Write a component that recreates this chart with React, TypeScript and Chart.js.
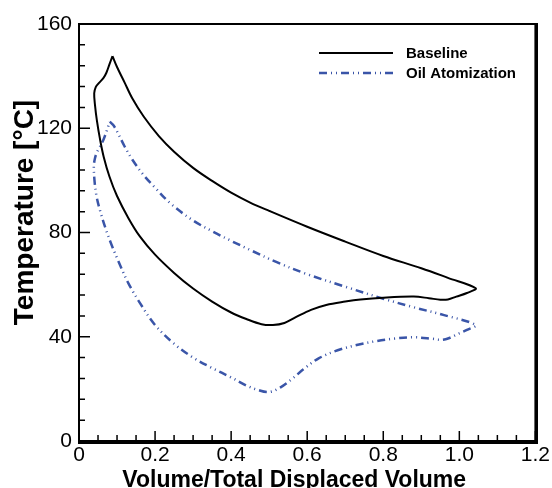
import React, { useEffect, useRef, useState } from "react";
import { Chart, registerables } from "chart.js";

Chart.register(...registerables);

const seriesLabels = ["Baseline", "Oil Atomization"];

const baselineX = [0.088, 0.100, 0.120, 0.140, 0.170, 0.210, 0.250, 0.300, 0.350, 0.400, 0.450, 0.500, 0.600, 0.700, 0.800, 0.900, 0.970, 1.043, 1.020, 0.992, 0.970, 0.950, 0.920, 0.880, 0.800, 0.740, 0.700, 0.650, 0.610, 0.570, 0.540, 0.510, 0.480, 0.440, 0.400, 0.350, 0.300, 0.250, 0.200, 0.160, 0.130, 0.100, 0.080, 0.065, 0.055, 0.047, 0.042, 0.040, 0.044, 0.052, 0.064, 0.072, 0.080, 0.088];
const baselineY = [147.7, 143.5, 137.5, 131.5, 124.5, 117.0, 111.0, 104.8, 99.8, 95.3, 91.5, 88.3, 82.2, 76.5, 71.0, 66.3, 62.6, 58.6, 56.8, 55.4, 54.3, 54.2, 54.8, 55.4, 55.0, 54.3, 53.5, 52.2, 50.3, 47.5, 45.3, 44.5, 44.8, 46.8, 49.3, 53.5, 58.5, 64.5, 71.5, 78.5, 85.5, 94.0, 101.5, 109.0, 116.0, 123.0, 129.0, 133.4, 135.8, 137.3, 139.2, 141.3, 144.5, 147.7];

const oilX = [0.081, 0.090, 0.100, 0.120, 0.140, 0.170, 0.200, 0.240, 0.300, 0.350, 0.400, 0.450, 0.520, 0.600, 0.700, 0.800, 0.880, 0.960, 1.043, 1.020, 1.000, 0.975, 0.955, 0.930, 0.880, 0.830, 0.780, 0.730, 0.680, 0.630, 0.590, 0.560, 0.530, 0.500, 0.470, 0.440, 0.400, 0.350, 0.300, 0.250, 0.200, 0.160, 0.130, 0.105, 0.085, 0.070, 0.055, 0.046, 0.041, 0.039, 0.042, 0.048, 0.064, 0.081];
const oilY = [122.5, 121.2, 118.8, 113.0, 108.0, 102.0, 97.2, 91.2, 84.6, 80.5, 76.8, 73.3, 68.6, 64.0, 59.2, 54.6, 51.3, 48.3, 44.5, 42.6, 41.3, 39.6, 38.8, 39.2, 39.8, 39.3, 38.3, 36.8, 34.8, 31.7, 27.5, 23.8, 20.6, 18.8, 19.6, 21.3, 24.4, 28.0, 32.0, 37.3, 44.5, 53.0, 60.5, 68.5, 75.5, 81.5, 88.6, 94.0, 99.5, 105.3, 108.5, 111.0, 115.5, 122.5];

const xTicks = [0, 0.2, 0.4, 0.6, 0.8, 1, 1.2];
const yTicks = [0, 40, 80, 120, 160];
const xMinorPerMajor = 4;
const yMinorPerMajor = 5;

const xTitle = "Volume/Total Displaced Volume";
const yTitle = "Temperature [°C]";

const FONT = "'Liberation Sans', Arial, Helvetica, sans-serif";

const axesPlugin = {
  id: "axesPlugin",
  afterDraw(chart: any) {
    const ctx = chart.ctx;
    const a = chart.chartArea;
    const xs = chart.scales.x;
    const ys = chart.scales.y;

    ctx.save();
    ctx.strokeStyle = "#000000";
    ctx.lineWidth = 2;
    ctx.setLineDash([]);
    ctx.strokeRect(a.left, a.top, a.right - a.left, a.bottom - a.top);

    ctx.lineWidth = 1.5;
    const yStep = (yTicks[1] - yTicks[0]) / yMinorPerMajor;
    const nY = Math.round((yTicks[yTicks.length - 1] - yTicks[0]) / yStep);
    ctx.beginPath();
    for (let i = 0; i <= nY; i++) {
      const p = ys.getPixelForValue(yTicks[0] + i * yStep);
      const len = i % yMinorPerMajor === 0 ? 11 : 6;
      ctx.moveTo(a.left, p);
      ctx.lineTo(a.left + len, p);
    }
    const xStep = (xTicks[1] - xTicks[0]) / xMinorPerMajor;
    const nX = Math.round((xTicks[xTicks.length - 1] - xTicks[0]) / xStep);
    for (let i = 0; i <= nX; i++) {
      const p = xs.getPixelForValue(xTicks[0] + i * xStep);
      const len = i % xMinorPerMajor === 0 ? 10 : 6;
      ctx.moveTo(p, a.bottom);
      ctx.lineTo(p, a.bottom - len);
    }
    ctx.stroke();
    ctx.restore();

    chart.data.datasets.forEach((ds: any, i: number) => {
      const y = a.top + 29 + i * 20;
      ctx.save();
      ctx.strokeStyle = ds.borderColor;
      ctx.lineWidth = ds.borderWidth;
      ctx.setLineDash(ds.borderDash || []);
      ctx.beginPath();
      ctx.moveTo(a.left + 240, y);
      ctx.lineTo(a.left + 314, y);
      ctx.stroke();
      ctx.restore();
      ctx.save();
      ctx.font = `bold 15px ${FONT}`;
      ctx.textAlign = "left";
      ctx.textBaseline = "middle";
      ctx.fillStyle = "#000";
      ctx.fillText(ds.label, a.left + 327, y + 1);
      ctx.restore();
    });

    ctx.save();
    ctx.fillStyle = "#000";
    ctx.font = `bold 23px ${FONT}`;
    ctx.textAlign = "center";
    ctx.textBaseline = "alphabetic";
    ctx.fillText(xTitle, (a.left + a.right) / 2 - 13, chart.height - 1.5);
    ctx.translate(33, (a.top + a.bottom) / 2 - 20);
    ctx.rotate(-Math.PI / 2);
    ctx.font = `bold 28px ${FONT}`;
    ctx.fillText(yTitle, 0, 0);
    ctx.restore();
  },
};

export default function App() {
  const ref = useRef<HTMLCanvasElement | null>(null);
  const [area, setArea] = useState<any>(null);

  useEffect(() => {
    if (!ref.current) return;
    const chart = new Chart(ref.current, {
      type: "scatter",
      data: {
        datasets: [
          {
            label: seriesLabels[0],
            data: baselineX.map((x, i) => ({ x, y: baselineY[i] })),
            showLine: true,
            borderColor: "#000000",
            backgroundColor: "#000000",
            borderWidth: 2,
            pointRadius: 0,
            tension: 0.35,
            fill: false,
          },
          {
            label: seriesLabels[1],
            data: oilX.map((x, i) => ({ x, y: oilY[i] })),
            showLine: true,
            borderColor: "#3a55a8",
            backgroundColor: "#3a55a8",
            borderWidth: 2.5,
            borderDash: [8, 4, 1, 4, 1, 4],
            pointRadius: 0,
            tension: 0.35,
            fill: false,
          },
        ],
      },
      options: {
        responsive: false,
        animation: false,
        events: [],
        layout: { padding: { top: 24, right: 16, left: 0, bottom: 0 } },
        plugins: {
          legend: { display: false },
          tooltip: { enabled: false },
          title: { display: false },
        },
        scales: {
          x: {
            type: "linear",
            min: xTicks[0],
            max: xTicks[xTicks.length - 1],
            afterBuildTicks: (s: any) => {
              s.ticks = xTicks.map((v) => ({ value: v }));
            },
            afterFit: (s: any) => {
              s.height = 47;
            },
            grid: { display: false, drawTicks: false, tickLength: 0 },
            border: { display: true, color: "#000", width: 2 },
            ticks: {
              autoSkip: false,
              maxRotation: 0,
              padding: 2,
              color: "#000",
              font: { family: FONT, size: 21 },
            },
          },
          y: {
            type: "linear",
            min: yTicks[0],
            max: yTicks[yTicks.length - 1],
            afterBuildTicks: (s: any) => {
              s.ticks = yTicks.map((v) => ({ value: v }));
            },
            afterFit: (s: any) => {
              s.width = 79;
            },
            grid: { display: false, drawTicks: false, tickLength: 0 },
            border: { display: true, color: "#000", width: 2 },
            ticks: {
              autoSkip: false,
              padding: 7,
              color: "#000",
              font: { family: FONT, size: 21 },
            },
          },
        },
      },
      plugins: [axesPlugin],
    } as any);
    const ca = chart.chartArea;
    setArea({ left: ca.left, top: ca.top, width: ca.right - ca.left, height: ca.bottom - ca.top });
    return () => chart.destroy();
  }, []);

  return (
    <div style={{ position: "absolute", left: 0, top: 0, width: 552, height: 488, background: "#fff" }}>
      <canvas ref={ref} width={552} height={488} />
      {area && (
        <div
          style={{
            position: "absolute",
            left: area.left - 1,
            top: area.top - 1,
            width: area.width,
            height: area.height,
            border: "2px solid #000",
            pointerEvents: "none",
          }}
        />
      )}
    </div>
  );
}
